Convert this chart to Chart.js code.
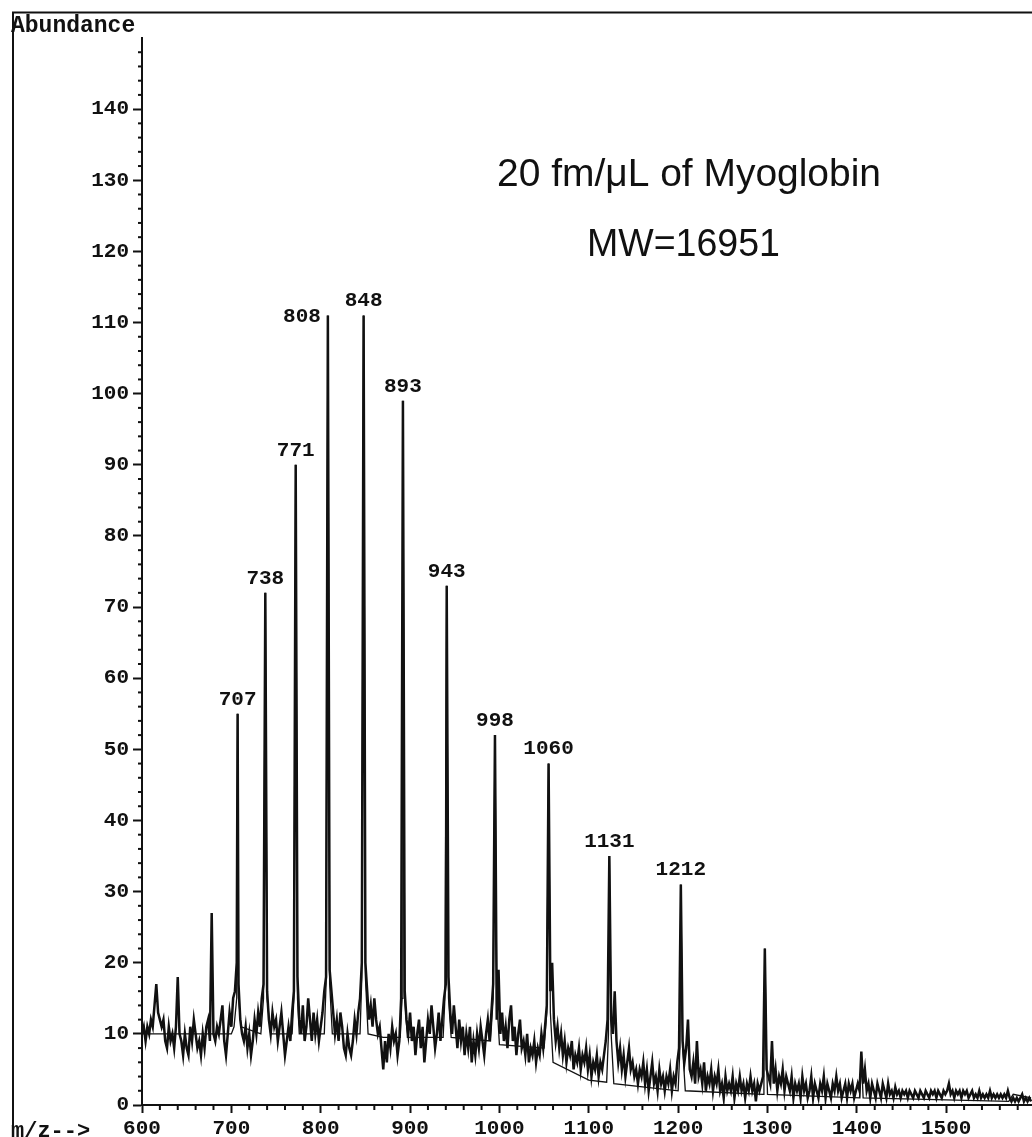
<!DOCTYPE html>
<html><head><meta charset="utf-8">
<script src="https://cdn.jsdelivr.net/npm/chart.js@4/dist/chart.umd.min.js"></script>
<style>html,body{margin:0;padding:0;background:#fff;}canvas{display:block;}</style>
</head><body>
<canvas id="c" width="1032" height="1137"></canvas>
<script>
// ---- DATA ----
const noiseMz = [600,602,604,606,608,610,612,614,616,618,620,622,624,626,628,630,632,634,636,638,640,642,644,646,648,650,652,654,656,658,660,662,664,666,668,670,672,674,676,678,680,682,684,686,688,690,692,694,696,698,700,702,704,706,707,708,710,712,714,716,718,720,722,724,726,728,730,732,734,736,738,740,742,744,746,748,750,752,754,756,758,760,762,764,766,768,770,772,774,776,778,780,782,784,786,788,790,792,794,796,798,800,802,804,806,808,810,812,814,816,818,820,822,824,826,828,830,832,834,836,838,840,842,844,846,848,850,852,854,856,858,860,862,864,866,868,870,872,874,876,878,880,882,884,886,888,890,892,894,896,898,900,902,904,906,908,910,912,914,916,918,920,922,924,926,928,930,932,934,936,938,940,941,943,945,947,949,951,953,955,957,959,961,963,965,967,969,971,973,975,977,979,981,983,985,987,989,991,993,995,997,999,1001,1003,1005,1007,1009,1011,1013,1015,1017,1019,1021,1023,1025,1027,1029,1031,1033,1035,1037,1039,1041,1043,1045,1047,1049,1051,1053,1055,1057,1059,1061,1063,1065,1067,1069,1071,1073,1075,1077,1079,1081,1083,1085,1087,1089,1091,1093,1095,1097,1099,1101,1103,1105,1107,1109,1111,1113,1115,1117,1119,1121,1123,1125,1127,1129,1131,1133,1135,1137,1139,1141,1143,1145,1147,1149,1151,1153,1155,1157,1159,1161,1163,1165,1167,1169,1171,1173,1175,1177,1179,1181,1183,1185,1187,1189,1191,1193,1195,1197,1199,1201,1203,1205,1207,1209,1211,1213,1215,1217,1219,1221,1223,1225,1227,1229,1231,1233,1235,1237,1239,1241,1243,1245,1247,1249,1251,1253,1255,1257,1259,1261,1263,1265,1267,1269,1271,1273,1275,1277,1279,1281,1283,1285,1287,1289,1291,1293,1295,1297,1299,1301,1303,1305,1307,1309,1311,1313,1315,1317,1319,1321,1323,1325,1327,1329,1331,1333,1335,1337,1339,1341,1343,1345,1347,1349,1351,1353,1355,1357,1359,1361,1363,1365,1367,1369,1371,1373,1375,1377,1379,1381,1383,1385,1387,1389,1391,1393,1395,1397,1399,1401,1403,1405,1407,1409,1411,1413,1415,1417,1419,1421,1423,1425,1427,1429,1431,1433,1435,1437,1439,1441,1443,1445,1447,1449,1451,1453,1455,1457,1459,1461,1463,1465,1467,1469,1471,1473,1475,1477,1479,1481,1483,1485,1487,1489,1491,1493,1495,1497,1499,1501,1503,1505,1507,1509,1511,1513,1515,1517,1519,1521,1523,1525,1527,1529,1531,1533,1535,1537,1539,1541,1543,1545,1547,1549,1551,1553,1555,1557,1559,1561,1563,1565,1567,1569,1571,1573,1575,1577,1579,1581,1583,1585,1587,1589,1591,1593,1595];
const noiseAb = [10,11,9,11,10,12,11,14,17,13,12,11,12,9,8,11,9,10,8,11,18,10,9,7,10,8,7,11,9,12,10,8,9,7,10,8,11,12,9,27,10,9,11,10,12,14,9,7,10,13,11,15,16,20,55,17,12,10,9,11,8,10,7,9,12,10,13,11,15,17,72,16,12,10,13,11,12,9,11,13,10,7,9,11,9,13,16,90,18,12,10,14,9,11,15,12,9,13,10,12,9,11,13,16,18,111,19,16,13,10,12,9,13,11,8,7,10,8,7,9,12,10,13,15,20,111,20,16,12,14,11,15,12,10,11,8,5,9,6,10,8,11,9,10,7,9,15,99,16,12,10,13,9,11,7,10,12,8,11,6,9,12,10,14,11,8,10,13,9,12,15,17,73,18,13,10,14,11,8,12,9,11,7,10,8,11,6,9,7,10,8,11,9,7,10,12,9,13,17,52,12,19,10,13,9,11,8,12,14,9,11,7,10,12,8,9,7,10,6,8,7,9,6,8,7,10,8,11,14,48,16,20,12,9,11,8,10,7,9,6,8,7,9,5,7,6,8,5,7,6,8,5,7,4,6,5,7,4,6,5,7,9,12,35,12,10,16,9,6,8,5,7,4,6,8,5,6,4,5,3,5,4,6,3,5,2,4,6,3,4,2,5,3,4,2,4,3,5,2,4,3,6,8,31,9,6,8,12,5,4,6,3,9,4,5,3,6,2,4,3,5,2,4,3,5,2,3,1,4,2,3,2,4,1,3,2,4,2,3,1,3,2,4,2,3,0.5,3,2,3,4,22,5,4,3,9,3,5,2,4,3,5,2,4,3,2,4,1,3,2,3,1,4,2,3,1,2,4,1,3,2,1,3,2,4,1,3,2,1,3,2,4,2,3,1,2,3,1,3,2,3,1,2,3,2,7.5,3,5,2,3,1,3,2,1,3,2,1,3,2,1,3,1.5,2,1,2.5,1.5,2,1,2,1.5,2,1,2,1.5,1,2,1.5,1,2,1.5,1,2,1.5,1,2,1.5,2,1,2,1.5,1,2,1.5,2,3,1.5,2,1,2,1.5,2,1,2,1.5,2,1,1.5,2,1,1.5,1,2,1,1.5,1,1.5,1,2,1,1.5,1,1.5,1,1.5,1,1.5,1,2,1,0.5,1,0.5,1,0.5,1,1.5,0.5,1,0.5,1,0.5];
const smoothMz = [600,700,703,706,707,708,711,733,736,738,740,744,768,770,772,774,776,804,806,808,810,813,844,846,848,850,853,870,889,891,892,894,897,937,939,941,943,946,990,993,995,997,1000,1050,1053,1055,1057,1060,1100,1120,1122,1123,1125,1128,1200,1202,1203,1205,1208,1295,1296,1297,1299,1300,1403,1405,1407,1570,1575,1595];
const smoothAb = [10,10,11,15,55,15,11,10,15,72,15,10,10,15,90,15,10,10,17,111,17,10,10,18,111,18,10,9.5,9.5,15,99,15,9.5,9.5,15,73,15,9.5,9,15,52,15,8.5,8,13,48,13,6,3.5,3.2,10,35,10,3,2,8,31,8,2,1.5,6,22,6,1.5,1,7,1,0.5,1.5,1];
const peakLabels = ["707","738","771","808","848","893","943","998","1060","1131","1212"];
const peakMz = [707,738,772,808,848,892,941,995,1055,1123,1203];
const peakAb = [55,72,90,111,111,99,73,52,48,35,31];
const xTickValues = [600,700,800,900,1000,1100,1200,1300,1400,1500];
const yTickValues = [0,10,20,30,40,50,60,70,80,90,100,110,120,130,140];
const titleLines = ["20 fm/\u03bcL of Myoglobin","MW=16951"];

// ---- CHART ----
const MONO = '"Liberation Mono", "DejaVu Sans Mono", monospace';
const labelLeft = new Set(["808"]);

const decor = {
  id: 'decor',
  afterDraw(chart) {
    const ctx = chart.ctx, xs = chart.scales.x, ys = chart.scales.y;
    ctx.save();
    ctx.strokeStyle = '#111'; ctx.fillStyle = '#111';
    // outer frame
    ctx.lineWidth = 2;
    ctx.beginPath(); ctx.moveTo(13, 1137); ctx.lineTo(13, 12.5); ctx.lineTo(1032, 12.5); ctx.stroke();
    // minor ticks x (every 20)
    for (let v = 620; v < xs.max; v += 20) {
      if (v % 100 === 0) continue;
      const px = xs.getPixelForValue(v);
      ctx.beginPath(); ctx.moveTo(px, ys.bottom); ctx.lineTo(px, ys.bottom + 5); ctx.stroke();
    }
    // minor ticks y (every 2)
    for (let v = 2; v <= 150; v += 2) {
      if (v % 10 === 0) continue;
      const py = ys.getPixelForValue(v);
      ctx.beginPath(); ctx.moveTo(xs.left, py); ctx.lineTo(xs.left - 4, py); ctx.stroke();
    }
    // peak labels
    ctx.font = 'bold 21px ' + MONO;
    for (let i = 0; i < peakLabels.length; i++) {
      const px = xs.getPixelForValue(peakMz[i]);
      const py = ys.getPixelForValue(peakAb[i]);
      if (labelLeft.has(peakLabels[i])) {
        ctx.textAlign = 'right'; ctx.textBaseline = 'middle';
        ctx.fillText(peakLabels[i], px - 7, py + 1);
      } else {
        ctx.textAlign = 'center'; ctx.textBaseline = 'bottom';
        ctx.fillText(peakLabels[i], px, py - 4);
      }
    }
    // axis captions
    ctx.textAlign = 'left'; ctx.textBaseline = 'alphabetic';
    ctx.font = 'bold 23px ' + MONO;
    ctx.fillText('Abundance', 11, 32);
    ctx.font = 'bold 22px ' + MONO;
    ctx.fillText('m/z-->', 11, 1137);
    // title text (horizontally fitted)
    ctx.font = '38px "Liberation Sans", Arial, sans-serif';
    const fit = (txt, left, right, base) => {
      const w = ctx.measureText(txt).width;
      ctx.save(); ctx.translate(left, base); ctx.scale((right - left) / w, 1);
      ctx.textAlign = 'left'; ctx.fillText(txt, 0, 0); ctx.restore();
    };
    fit(titleLines[0], 497, 881, 186);
    fit(titleLines[1], 587, 780, 256);
    ctx.restore();
  }
};

new Chart(document.getElementById('c'), {
  type: 'line',
  data: {
    datasets: [
      { data: noiseMz.map((x, i) => ({x, y: noiseAb[i]})), borderColor: '#111', borderWidth: 2.5, pointRadius: 0, tension: 0 },
      { data: smoothMz.map((x, i) => ({x, y: smoothAb[i]})), borderColor: '#111', borderWidth: 1.3, pointRadius: 0, tension: 0 }
    ]
  },
  options: {
    responsive: false, animation: false, devicePixelRatio: 1,
    layout: { padding: { top: 38, right: 0, left: 0, bottom: 0 } },
    plugins: { legend: { display: false }, tooltip: { enabled: false } },
    scales: {
      x: {
        type: 'linear', min: 600, max: 1596,
        afterBuildTicks: s => { s.ticks = xTickValues.map(v => ({value: v})); },
        afterFit: s => { s.height = 32; },
        grid: { drawOnChartArea: false, drawTicks: true, tickLength: 8, tickWidth: 2, tickColor: '#111' },
        border: { color: '#111', width: 2 },
        ticks: { color: '#111', font: { family: MONO, size: 21, weight: 'bold' }, padding: 3, maxRotation: 0, autoSkip: false,
                 callback: v => String(v) }
      },
      y: {
        type: 'linear', min: 0, max: 150,
        afterBuildTicks: s => { s.ticks = yTickValues.map(v => ({value: v})); },
        afterFit: s => { s.width = 142; },
        grid: { drawOnChartArea: false, drawTicks: true, tickLength: 9, tickWidth: 2, tickColor: '#111' },
        border: { color: '#111', width: 2 },
        ticks: { color: '#111', font: { family: MONO, size: 21, weight: 'bold' }, padding: 4, callback: v => String(v) }
      }
    }
  },
  plugins: [decor]
});
</script>
</body></html>
